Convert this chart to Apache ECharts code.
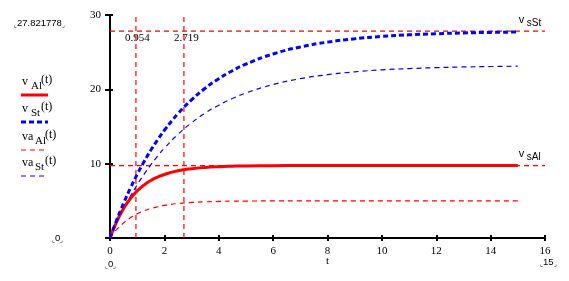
<!DOCTYPE html>
<html><head><meta charset="utf-8">
<script src="https://cdn.jsdelivr.net/npm/echarts@6/dist/echarts.min.js"></script>
<style>html,body{margin:0;padding:0;background:#fff}#c{width:569px;height:281px}</style>
</head><body><div id="c"></div>
<script>
// time samples
var t = [0,0.25,0.5,0.75,1,1.25,1.5,1.75,2,2.5,3,3.5,4,4.5,5,6,7,8,9,10,11,12,13,14,15];
var vAl  = [0,2.25,3.98,5.31,6.33,7.12,7.73,8.19,8.55,9.04,9.33,9.50,9.60,9.66,9.70,9.73,9.74,9.75,9.75,9.75,9.75,9.75,9.75,9.75,9.75];
var vSt  = [0,2.44,4.67,6.71,8.56,10.25,11.80,13.20,14.49,16.73,18.59,20.14,21.43,22.50,23.40,24.76,25.70,26.35,26.80,27.12,27.33,27.48,27.59,27.66,27.71];
var vaAl = [0,1.15,2.04,2.72,3.25,3.65,3.96,4.20,4.39,4.64,4.78,4.87,4.92,4.96,4.97,4.99,5.0,5.0,5.0,5.0,5.0,5.0,5.0,5.0,5.0];
var vaSt = [0,2.04,3.89,5.60,7.14,8.55,9.84,11.01,12.08,13.95,15.50,16.80,17.87,18.76,19.51,20.65,21.43,21.97,22.35,22.62,22.79,22.92,23.01,23.07,23.11];
var vsSt = 27.821778, vsAl = 9.75;
var tauAl = 0.954, tauSt = 2.719;
var xTicks = [0,2,4,6,8,10,12,14,16];
var yTicks = [0,10,20,30];

function pairs(xs, ys){ return xs.map(function(x,i){return [x, ys[i]];}); }
var RED = '#ff0000', BLUE = '#0000ff';
var serif = '"Liberation Serif","Times New Roman",serif';
var sans = '"Liberation Sans",Arial,sans-serif';

var chart = echarts.init(document.getElementById('c'), null, {renderer:'canvas'});
var xBase = {type:'value', min:0, max:16, interval:2, position:'bottom'};
var yBase = {type:'value', min:0, max:30, interval:10, position:'left'};
var option = {
  animation:false,
  backgroundColor:'#fff',
  grid:{left:110, right:24, top:15, bottom:43},
  xAxis:[
    Object.assign({}, xBase, {
      axisLine:{show:true, onZero:false, lineStyle:{color:'#000', width:2}},
      axisTick:{show:true, inside:false, length:3, lineStyle:{color:'#000', width:2}},
      axisLabel:{margin:8, color:'#000', fontFamily:serif, fontSize:11},
      splitLine:{show:false}
    }),
    Object.assign({}, xBase, {
      axisLine:{show:false},
      axisTick:{show:true, inside:true, length:3, lineStyle:{color:'#000', width:2}},
      axisLabel:{show:false}, splitLine:{show:false}
    })
  ],
  yAxis:[
    Object.assign({}, yBase, {
      axisLine:{show:true, onZero:false, lineStyle:{color:'#000', width:2}},
      axisTick:{show:true, inside:false, length:5, lineStyle:{color:'#000', width:2}},
      axisLabel:{margin:9, color:'#000', fontFamily:serif, fontSize:11,
        formatter:function(v){return v===0?'':String(v);}},
      splitLine:{show:false}
    }),
    Object.assign({}, yBase, {
      axisLine:{show:false},
      axisTick:{show:true, inside:true, length:3, lineStyle:{color:'#000', width:2}},
      axisLabel:{show:false}, splitLine:{show:false}
    })
  ],
  series:[
    {type:'line', data:[[0,vsSt],[16,vsSt]], showSymbol:false, lineStyle:{color:RED, width:1.2, type:[5,4]}},
    {type:'line', data:[[0,vsAl],[16,vsAl]], showSymbol:false, lineStyle:{color:RED, width:1.2, type:[5,4]}},
    {type:'line', data:[[tauAl,0],[tauAl,30]], showSymbol:false, lineStyle:{color:RED, width:1.2, type:[5,4]}},
    {type:'line', data:[[tauSt,0],[tauSt,30]], showSymbol:false, lineStyle:{color:RED, width:1.2, type:[5,4]}},
    {type:'line', data:pairs(t,vaAl), smooth:true, showSymbol:false, lineStyle:{color:RED, width:1.2, type:[5,4]}},
    {type:'line', data:pairs(t,vaSt), smooth:true, showSymbol:false, lineStyle:{color:BLUE, width:1.2, type:[5,4]}},
    {type:'line', data:pairs(t,vAl), smooth:true, showSymbol:false, lineStyle:{color:RED, width:3}},
    {type:'line', data:pairs(t,vSt), smooth:true, showSymbol:false, lineStyle:{color:BLUE, width:3, type:[5,3], cap:'butt'}}
  ]
};
chart.setOption(option);

function px(x,y){ return chart.convertToPixel({xAxisIndex:0, yAxisIndex:0}, [x,y]); }
var pA = px(tauAl, vsSt), pS = px(tauSt, vsSt), pE = px(15, vsSt), pE2 = px(15, vsAl), p0 = px(0,0), p16 = px(16,0);

function txt(x,y,s,size,font){ return {type:'text', left:x, top:y, style:{text:s, fill:'#000', font: size+'px '+font}}; }
function limTxt(x,y,s){
  return {type:'text', left:x, top:y, style:{
    text:'{b|\u231E}{n|'+s+'}{b|\u231F}', fill:'#000',
    rich:{b:{fontSize:6, fontFamily:sans, fill:'#000', verticalAlign:'bottom'}, n:{fontSize:9.5, fontFamily:sans, fill:'#000'}}
  }};
}
function legendEntry(y, main, sub, color, lineType, w){
  var mw = main.length === 1 ? 7 : 11;
  return [
    txt(22, y, main, 12, serif),
    txt(22+mw+2, y+5, sub, 11, serif),
    txt(22+mw+12, y-2, '(t)', 12, serif),
    {type:'line', shape:{x1:21, y1:y+19, x2:48, y2:y+19},
     style:{stroke:color, lineWidth:w, lineDash:lineType}}
  ];
}
var g = [];
g = g.concat(legendEntry(76, 'v', 'Al', RED, null, 3));
g = g.concat(legendEntry(103, 'v', 'St', BLUE, [5,3], 3));
g = g.concat(legendEntry(131, 'va', 'Al', RED, [5,4], 1.2));
g = g.concat(legendEntry(157, 'va', 'St', BLUE, [5,4], 1.2));
g.push(limTxt(14, 18, '27.821778'));
g.push(limTxt(52, 233, '0'));
g.push(limTxt(p0[0]-5, 259, '0'));
g.push(limTxt(p16[0]-5, 257, '15'));
g.push(txt(326, 256, 't', 11, serif));
g.push(txt(pA[0]-11, pA[1]+1, '0.954', 11, serif));
g.push(txt(pS[0]-10, pS[1]+1, '2.719', 11, serif));
g.push(txt(pE[0]+1, pE[1]-17, 'v', 11, sans));
g.push(txt(pE[0]+9, pE[1]-13, 'sSt', 10, sans));
g.push(txt(pE2[0]+1, pE2[1]-17, 'v', 11, sans));
g.push(txt(pE2[0]+9, pE2[1]-13, 'sAl', 10, sans));
chart.setOption({graphic:g});
</script></body></html>
